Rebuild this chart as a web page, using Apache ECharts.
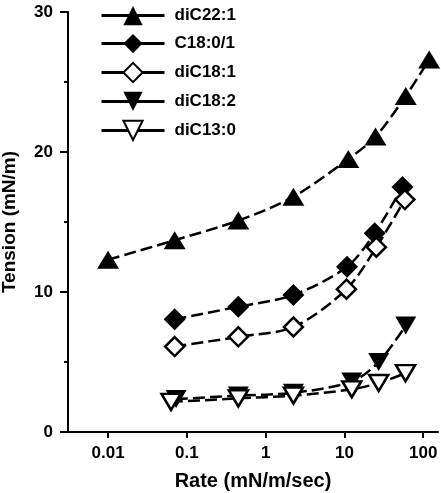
<!DOCTYPE html>
<html>
<head>
<meta charset="utf-8">
<script src="https://cdn.jsdelivr.net/npm/echarts@6/dist/echarts.min.js"></script>
<style>
html,body{margin:0;padding:0;background:#fff;}
#c{width:441px;height:493px;}
</style>
</head>
<body>
<div id="c"></div>
<script>
const seriesNames = ['diC22:1', 'C18:0/1', 'diC18:1', 'diC18:2', 'diC13:0'];
const xTicks = [0.01, 0.1, 1, 10, 100];
const yTicks = [0, 10, 20, 30];

const rateDiC22_1 = [0.01, 0.07, 0.45, 2.25, 11.2, 24.8, 60, 119];
const tensionDiC22_1 = [12.3, 13.7, 15.1, 16.8, 19.5, 21.1, 24.0, 26.6];

const rateC18_0_1 = [0.07, 0.45, 2.25, 10.8, 24.2, 54.6];
const tensionC18_0_1 = [8.06, 8.95, 9.79, 11.8, 14.2, 17.5];

const rateDiC18_1 = [0.07, 0.45, 2.25, 10.6, 25.4, 58.5];
const tensionDiC18_1 = [6.1, 6.8, 7.5, 10.2, 13.2, 16.6];

const rateDiC18_2 = [0.073, 0.45, 2.25, 12.4, 27.2, 60];
const tensionDiC18_2 = [2.35, 2.6, 2.8, 3.6, 5.0, 7.6];

const rateDiC13_0 = [0.063, 0.45, 2.25, 12.4, 27.2, 59.6];
const tensionDiC13_0 = [2.15, 2.4, 2.6, 3.05, 3.5, 4.2];

function pairs(xs, ys) { return xs.map((x, i) => [x, ys[i]]); }

const FONT = 'Liberation Sans, Arial, sans-serif';
const lineStyle = { color: '#000', width: 2.5, type: [12, 5] };
const filled = { color: '#000', borderColor: '#000', borderWidth: 0 };
const open = { color: '#fff', borderColor: '#000', borderWidth: 2.5 };

function mk(name, data, symbol, size, rotate, style) {
  return {
    name: name, type: 'line', data: data, smooth: 0.3,
    symbol: symbol, symbolSize: size, symbolRotate: rotate,
    showAllSymbol: true,
    lineStyle: lineStyle, itemStyle: style,
    emphasis: { disabled: true }
  };
}

const chart = echarts.init(document.getElementById('c'), null, { renderer: 'canvas' });
chart.setOption({
  animation: false,
  backgroundColor: '#fff',
  grid: { left: 68, right: 3, top: 12, bottom: 61, containLabel: false, outerBoundsMode: 'none' },
  legend: {
    orient: 'vertical', left: 95, top: 1, padding: 5,
    itemWidth: 63, itemHeight: 24, itemGap: 8.75,
    data: seriesNames,
    lineStyle: { type: 'solid', width: 3, color: '#000' },
    textStyle: { fontFamily: FONT, fontWeight: 'bold', fontSize: 17, color: '#000', padding: [0, 0, 0, 5] },
    selectedMode: false
  },
  xAxis: {
    type: 'log', logBase: 10,
    min: 0.0031, max: 154,
    name: 'Rate (mN/m/sec)', nameLocation: 'middle', nameGap: 39,
    nameTextStyle: { fontFamily: FONT, fontWeight: 'bold', fontSize: 20, color: '#000' },
    axisLine: { show: true, lineStyle: { color: '#000', width: 2 } },
    axisTick: { show: true, inside: false, length: 6, lineStyle: { color: '#000', width: 2 }, customValues: xTicks },
    axisLabel: { show: true, margin: 13, customValues: xTicks, fontFamily: FONT, fontWeight: 'bold', fontSize: 17, color: '#000',
      formatter: v => String(v) },
    splitLine: { show: false },
    minorTick: { show: false }
  },
  yAxis: {
    type: 'value', min: 0, max: 30, interval: 10,
    name: 'Tension (mN/m)', nameLocation: 'middle', nameGap: 49, nameRotate: 90,
    nameTextStyle: { fontFamily: FONT, fontWeight: 'bold', fontSize: 19, color: '#000' },
    axisLine: { show: true, lineStyle: { color: '#000', width: 2 } },
    axisTick: { show: true, inside: false, length: 8, lineStyle: { color: '#000', width: 2 } },
    minorTick: { show: true, splitNumber: 2, length: 4, lineStyle: { color: '#000', width: 2 } },
    axisLabel: { margin: 15, fontFamily: FONT, fontWeight: 'bold', fontSize: 17, color: '#000' },
    splitLine: { show: false }
  },
  series: [
    mk(seriesNames[0], pairs(rateDiC22_1, tensionDiC22_1), 'triangle', [22, 18], 0, filled),
    mk(seriesNames[1], pairs(rateC18_0_1, tensionC18_0_1), 'diamond', [22, 22], 0, filled),
    mk(seriesNames[2], pairs(rateDiC18_1, tensionDiC18_1), 'diamond', [19, 19], 0, open),
    mk(seriesNames[3], pairs(rateDiC18_2, tensionDiC18_2), 'triangle', [21, 18], 180, filled),
    mk(seriesNames[4], pairs(rateDiC13_0, tensionDiC13_0), 'triangle', [19, 16], 180, open)
  ]
});
</script>
</body>
</html>
